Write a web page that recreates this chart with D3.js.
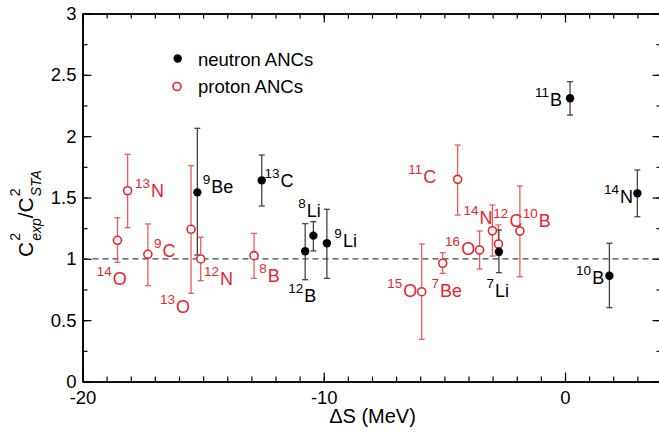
<!DOCTYPE html>
<meta charset="utf-8">
<script src="https://d3js.org/d3.v7.min.js"></script>
<style>
  body { margin: 0; background: #fff; }
  text { font-family: "Liberation Sans", Arial, Helvetica, sans-serif; }
</style>
<div id="chart"></div>
<script>

// ---- data ----
// neutron ANCs (filled black)
var nNames = ["9Be", "13C", "12B", "8Li", "9Li", "7Li", "10B", "11B", "14N"];
var nX     = [-15.24, -12.57, -10.77, -10.43, -9.87, -2.74, 1.84, 0.21, 3.0];
var nY     = [1.542, 1.640, 1.062, 1.189, 1.127, 1.058, 0.862, 2.309, 1.534];
var nHi    = [2.064, 1.846, 1.287, 1.303, 1.404, 1.235, 1.127, 2.444, 1.724];
var nLo    = [1.031, 1.431, 0.830, 1.064, 0.841, 0.887, 0.602, 2.172, 1.343];
// label anchor (start of superscript, baseline) in data units
var nLabX  = [-15.02, -12.46, -11.47, -11.06, -9.56, -3.25, 0.46, -1.24, 1.62];
var nLabY  = [1.534, 1.588, 0.651, 1.343, 1.099, 0.691, 0.795, 2.246, 1.453];

// proton ANCs (open red)
var pNames = ["13N", "14O", "9C", "13O", "12N", "8B", "11C", "15O", "7Be", "16O", "14N", "12C", "10B"];
var pX     = [-18.13, -18.55, -17.29, -15.50, -15.10, -12.89, -4.45, -5.94, -5.07, -3.54, -3.01, -2.76, -1.87];
var pY     = [1.555, 1.151, 1.037, 1.241, 0.999, 1.026, 1.648, 0.732, 0.964, 1.072, 1.229, 1.121, 1.227];
var pHi    = [1.852, 1.335, 1.284, 1.759, 1.176, 1.208, 1.928, 1.121, 1.050, 1.227, 1.439, 1.276, 1.594];
var pLo    = [1.254, 0.972, 0.781, 0.719, 0.822, 0.841, 1.357, 0.344, 0.882, 0.917, 1.023, 1.031, 0.854];
var pLabX  = [-17.82, -19.41, -17.04, -16.79, -14.96, -12.67, -6.50, -7.37, -5.53, -4.97, -4.21, -2.97, -1.75];
var pLabY  = [1.506, 0.787, 1.017, 0.556, 0.787, 0.814, 1.616, 0.691, 0.691, 1.031, 1.281, 1.262, 1.262];

var xMajor = [-20, -10, 0];
var yMajor = [0, 0.5, 1, 1.5, 2, 2.5, 3];
var legendLabels = ["neutron ANCs", "proton ANCs"];
var refLine = 1;

// ---- layout ----
var W = 659, H = 432;
var mLeft = 82.5, mRight = 661.5, mTop = 13.5, mBottom = 381.5;
var red = "#e6262c", redBar = "#ef5a5e", blackBar = "#444";

var svg = d3.select("#chart").append("svg")
    .attr("width", W).attr("height", H);

var x = d3.scaleLinear().domain([-20, 4]).range([mLeft, mRight]);
var y = d3.scaleLinear().domain([0, 3]).range([mBottom, mTop]);

var xMinor = d3.range(-20, 5, 1);
var yMinor = d3.range(0, 3.01, 0.25);

function styleAxis(g) {
  g.select(".domain").attr("stroke", "#000").attr("stroke-width", 1.6);
  g.selectAll(".tick line").attr("stroke", "#000").attr("stroke-width", 1.2);
  g.selectAll("text").attr("font-size", 18.5).attr("fill", "#000")
    .style("font-family", '"Liberation Sans", Arial, sans-serif');
}

// bottom
svg.append("g").attr("transform", "translate(0," + mBottom + ")")
  .call(d3.axisBottom(x).tickValues(xMinor).tickSize(-5).tickSizeOuter(0).tickFormat(""))
  .call(styleAxis);
svg.append("g").attr("transform", "translate(0," + mBottom + ")")
  .call(d3.axisBottom(x).tickValues(xMajor).tickSize(-9).tickSizeOuter(0).tickPadding(9)
        .tickFormat(function(d) { return String(d); }))
  .call(styleAxis);
// top
svg.append("g").attr("transform", "translate(0," + mTop + ")")
  .call(d3.axisTop(x).tickValues(xMinor).tickSize(-5).tickSizeOuter(0).tickFormat(""))
  .call(styleAxis);
svg.append("g").attr("transform", "translate(0," + mTop + ")")
  .call(d3.axisTop(x).tickValues(xMajor).tickSize(-9).tickSizeOuter(0).tickFormat(""))
  .call(styleAxis);
// left
svg.append("g").attr("transform", "translate(" + mLeft + ",0)")
  .call(d3.axisLeft(y).tickValues(yMinor).tickSize(-5).tickSizeOuter(0).tickFormat(""))
  .call(styleAxis);
svg.append("g").attr("transform", "translate(" + mLeft + ",0)")
  .call(d3.axisLeft(y).tickValues(yMajor).tickSize(-9).tickSizeOuter(0).tickPadding(6)
        .tickFormat(function(d) { return String(d); }))
  .call(styleAxis);
// right
svg.append("g").attr("transform", "translate(" + mRight + ",0)")
  .call(d3.axisRight(y).tickValues(yMinor).tickSize(-5).tickSizeOuter(0).tickFormat(""))
  .call(styleAxis);
svg.append("g").attr("transform", "translate(" + mRight + ",0)")
  .call(d3.axisRight(y).tickValues(yMajor).tickSize(-9).tickSizeOuter(0).tickFormat(""))
  .call(styleAxis);

// dashed reference line
svg.append("line")
  .attr("x1", x(-20)).attr("x2", x(4))
  .attr("y1", y(refLine)).attr("y2", y(refLine))
  .attr("stroke", "#444").attr("stroke-width", 1.2)
  .attr("stroke-dasharray", "6,4");

// build rows
var neutron = nNames.map(function(n, i) {
  return {name: n, x: nX[i], y: nY[i], hi: nHi[i], lo: nLo[i], lx: nLabX[i], ly: nLabY[i]};
});
var proton = pNames.map(function(n, i) {
  return {name: n, x: pX[i], y: pY[i], hi: pHi[i], lo: pLo[i], lx: pLabX[i], ly: pLabY[i]};
});

function errorBars(data, color) {
  var g = svg.append("g").attr("stroke", color).attr("stroke-width", 1.3);
  g.selectAll(".v").data(data).join("line")
    .attr("x1", function(d) { return x(d.x); }).attr("x2", function(d) { return x(d.x); })
    .attr("y1", function(d) { return y(d.lo); }).attr("y2", function(d) { return y(d.hi); });
  ["hi", "lo"].forEach(function(k) {
    g.selectAll(".c" + k).data(data).join("line")
      .attr("x1", function(d) { return x(d.x) - 3; }).attr("x2", function(d) { return x(d.x) + 3; })
      .attr("y1", function(d) { return y(d[k]); }).attr("y2", function(d) { return y(d[k]); });
  });
}
errorBars(proton, redBar);
errorBars(neutron, blackBar);

svg.append("g").selectAll("circle").data(proton).join("circle")
  .attr("cx", function(d) { return x(d.x); }).attr("cy", function(d) { return y(d.y); })
  .attr("r", 4).attr("fill", "#fff").attr("stroke", red).attr("stroke-width", 1.6);
svg.append("g").selectAll("circle").data(neutron).join("circle")
  .attr("cx", function(d) { return x(d.x); }).attr("cy", function(d) { return y(d.y); })
  .attr("r", 4.2).attr("fill", "#000");

// nucleus labels: mass number as superscript
function nucLabels(data, color) {
  var t = svg.append("g").selectAll("text").data(data).join("text")
    .attr("x", function(d) { return x(d.lx); })
    .attr("y", function(d) { return y(d.ly); })
    .attr("fill", color);
  t.append("tspan").attr("font-size", 13.5).attr("dy", -9)
    .text(function(d) { return d.name.match(/^\d+/)[0]; });
  t.append("tspan").attr("font-size", 18).attr("dy", 9).attr("dx", 1)
    .text(function(d) { return d.name.replace(/^\d+/, ""); });
}
nucLabels(neutron, "#000");
nucLabels(proton, red);

// legend
var lg = svg.append("g");
lg.append("circle").attr("cx", 177.7).attr("cy", 58.5).attr("r", 4.2).attr("fill", "#000");
lg.append("circle").attr("cx", 177).attr("cy", 86.5).attr("r", 4)
  .attr("fill", "#fff").attr("stroke", red).attr("stroke-width", 1.6);
lg.selectAll("text").data(legendLabels).join("text")
  .attr("x", 198).attr("y", function(d, i) { return 65.5 + i * 27.8; })
  .attr("font-size", 18.5).attr("fill", "#000")
  .text(function(d) { return d; });

// x label
svg.append("text").attr("x", 372.5).attr("y", 422.5)
  .attr("text-anchor", "middle").attr("font-size", 20)
  .text("\u0394S (MeV)");

// y label: C^2_exp / C^2_STA (rotated)
var yl = svg.append("g").attr("transform", "translate(33,257) rotate(-90)");
var pos = 0;
function piece(txt, size, italic, dy) {
  var t = yl.append("text").attr("x", pos).attr("y", dy).attr("font-size", size)
    .attr("font-style", italic ? "italic" : "normal").text(txt);
  return t.node().getComputedTextLength();
}
var w = piece("C", 21, false, 0);
pos += w + 1;
var w1 = piece("2", 14, false, -13);
var w2 = piece("exp", 14, true, 8);
pos += Math.max(w1, w2);
w = piece("/C", 21, false, 0);
pos += w + 1;
piece("2", 14, false, -13);
piece("STA", 14, true, 8);

</script>
